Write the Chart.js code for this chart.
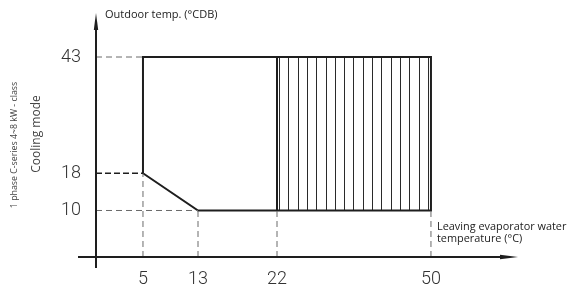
<!DOCTYPE html>
<html>
<head>
<meta charset="utf-8">
<script src="https://cdn.jsdelivr.net/npm/chart.js@4.4.1/dist/chart.umd.min.js"></script>
<style>
  html, body { margin: 0; padding: 0; background: #fff; }
  #wrap { width: 585px; height: 291px; position: relative; }
</style>
</head>
<body>
<div id="wrap"><canvas id="env"></canvas></div>
<script>
// leaving water temp (°C) on x, outdoor temp (°CDB) on y
const X_TICKS = [5, 13, 22, 50];
const Y_TICKS = [10, 18, 43];

// operating envelope outline (closed)
const ENV_X = [5, 5, 50, 50, 13, 5];
const ENV_Y = [18, 43, 43, 10, 10, 18];

// divider + hatched extended zone
const ZONE_X = [22, 50];
const ZONE_Y = [10, 43];

// dashed guides: horizontal from the y axis, vertical from the x axis
const H_GUIDE_Y  = [43, 18, 10];
const H_GUIDE_TO = [5, 5, 13];
const V_GUIDE_X  = [5, 13, 22, 50];
const V_GUIDE_TO = [18, 10, 10, 10];

const X_MIN = -2, X_MAX = 60, Y_MAX = 52.46;

// the drawing is not to scale on x -> piecewise axis (value, decimal)
const X_BREAKS = [[X_MIN, 0], [5, 0.1108], [13, 0.2406], [22, 0.4269], [50, 0.790], [X_MAX, 1]];

class StepScale extends Chart.LinearScale {
  static id = 'step';
  static defaults = Chart.LinearScale.defaults;
  _dec(v){
    const b = X_BREAKS;
    for (let i = 1; i < b.length; i++){
      if (v <= b[i][0] || i === b.length - 1){
        const [v0, d0] = b[i-1], [v1, d1] = b[i];
        return d0 + (v - v0) / (v1 - v0) * (d1 - d0);
      }
    }
  }
  getPixelForValue(v){ return v == null ? NaN : this.getPixelForDecimal(this._dec(v)); }
  getValueForPixel(p){
    const d = this.getDecimalForPixel(p), b = X_BREAKS;
    for (let i = 1; i < b.length; i++){
      if (d <= b[i][1] || i === b.length - 1){
        const [v0, d0] = b[i-1], [v1, d1] = b[i];
        return v0 + (d - d0) / (d1 - d0) * (v1 - v0);
      }
    }
  }
}
Chart.register(StepScale);

const INK = '#1e1e1e';
const pts = (xs, ys) => xs.map((x, i) => ({x, y: ys[i]}));

const datasets = [];
H_GUIDE_Y.forEach((y, i) => {
  const strong = y === 18;
  datasets.push({
    data: [{x: X_MIN, y}, {x: H_GUIDE_TO[i], y}],
    borderColor: strong ? INK : '#6a6a6a',
    borderWidth: strong ? 1.6 : 1,
    borderDash: strong ? [6, 3] : [6, 4]
  });
});
V_GUIDE_X.forEach((x, i) => {
  datasets.push({
    data: [{x, y: 0}, {x, y: V_GUIDE_TO[i]}],
    borderColor: '#6a6a6a', borderWidth: 1, borderDash: [6, 4]
  });
});
datasets.push({ data: [{x: ZONE_X[0], y: ZONE_Y[0]}, {x: ZONE_X[0], y: ZONE_Y[1]}], borderColor: INK, borderWidth: 2 });
datasets.push({ data: pts(ENV_X, ENV_Y), borderColor: INK, borderWidth: 2, borderJoinStyle: 'miter' });
datasets.forEach(d => { d.pointRadius = 0; d.fill = false; d.tension = 0; });

// vertical hatching of the 22..50 zone
const hatch = {
  id: 'hatch',
  beforeDatasetsDraw(c){
    const xs = c.scales.x, ys = c.scales.y, ctx = c.ctx;
    const x0 = xs.getPixelForValue(ZONE_X[0]), x1 = xs.getPixelForValue(ZONE_X[1]);
    const yt = ys.getPixelForValue(ZONE_Y[1]), yb = ys.getPixelForValue(ZONE_Y[0]);
    ctx.save();
    ctx.strokeStyle = '#2a2a2a';
    ctx.lineWidth = 1;
    ctx.beginPath();
    for (let x = x0 + 2; x < x1 - 2; x += 9.3){
      const px = Math.round(x) + 0.5;
      ctx.moveTo(px, yt); ctx.lineTo(px, yb);
    }
    ctx.stroke();
    ctx.restore();
  }
};

// arrowed axes and labels
const frame = {
  id: 'frame',
  afterDraw(c){
    const a = c.chartArea, ctx = c.ctx;
    ctx.save();
    ctx.strokeStyle = INK; ctx.fillStyle = INK; ctx.lineWidth = 2;
    // y axis
    ctx.beginPath(); ctx.moveTo(a.left, a.bottom + 11); ctx.lineTo(a.left, a.top + 14); ctx.stroke();
    ctx.beginPath(); ctx.moveTo(a.left, a.top); ctx.lineTo(a.left - 2.2, a.top + 17); ctx.lineTo(a.left + 2.2, a.top + 17); ctx.closePath(); ctx.fill();
    // x axis
    ctx.beginPath(); ctx.moveTo(a.left - 18, a.bottom); ctx.lineTo(a.right - 16, a.bottom); ctx.stroke();
    ctx.beginPath(); ctx.moveTo(a.right - 2, a.bottom); ctx.lineTo(a.right - 20, a.bottom - 2.2); ctx.lineTo(a.right - 20, a.bottom + 2.2); ctx.closePath(); ctx.fill();

    ctx.fillStyle = '#222';
    ctx.textBaseline = 'alphabetic';
    ctx.textAlign = 'left';
    ctx.font = '11px "Open Sans"';
    ctx.fillText('Outdoor temp. (°CDB)', a.left + 9, a.top + 5);
    ctx.font = '10.9px "Open Sans"';
    const lx = c.scales.x.getPixelForValue(50) + 6;
    ctx.fillText('Leaving evaporator water', lx, a.bottom - 27);
    ctx.fillText('temperature (°C)', lx, a.bottom - 15);

    ctx.fillStyle = '#444';
    ctx.textAlign = 'center';
    ctx.textBaseline = 'middle';
    ctx.save(); ctx.translate(14, 145); ctx.rotate(-Math.PI / 2);
    ctx.font = '8.8px "Open Sans"'; ctx.fillText('1 phase C-series 4~8 kW - class', 0, 0); ctx.restore();
    ctx.save(); ctx.translate(37, 134); ctx.rotate(-Math.PI / 2);
    ctx.font = '12px "Open Sans"'; ctx.fillText('Cooling mode', 0, 0); ctx.restore();
    ctx.restore();
  }
};

const tickFont = {family: 'Roboto', weight: 300, size: 18};

new Chart(document.getElementById('env'), {
  type: 'line',
  data: { datasets },
  options: {
    responsive: true,
    maintainAspectRatio: false,
    animation: false,
    layout: { padding: { top: 13, right: 65, left: 0, bottom: 0 } },
    plugins: { legend: { display: false }, tooltip: { enabled: false } },
    scales: {
      x: {
        type: 'step', min: X_MIN, max: X_MAX,
        grid: { display: false, drawTicks: false }, border: { display: false },
        ticks: { font: tickFont, color: '#333', padding: 12, maxRotation: 0, autoSkip: false },
        afterBuildTicks: s => { s.ticks = X_TICKS.map(v => ({value: v})); },
        afterFit: s => { s.height = 34; s.paddingLeft = 0; s.paddingRight = 0; }
      },
      y: {
        type: 'linear', min: 0, max: Y_MAX,
        grid: { display: false, drawTicks: false }, border: { display: false },
        ticks: { font: tickFont, color: '#333', padding: 15, autoSkip: false },
        afterBuildTicks: s => { s.ticks = Y_TICKS.map(v => ({value: v})); },
        afterFit: s => { s.width = 96; s.paddingTop = 0; s.paddingBottom = 0; }
      }
    }
  },
  plugins: [hatch, frame]
});
</script>
</body>
</html>
